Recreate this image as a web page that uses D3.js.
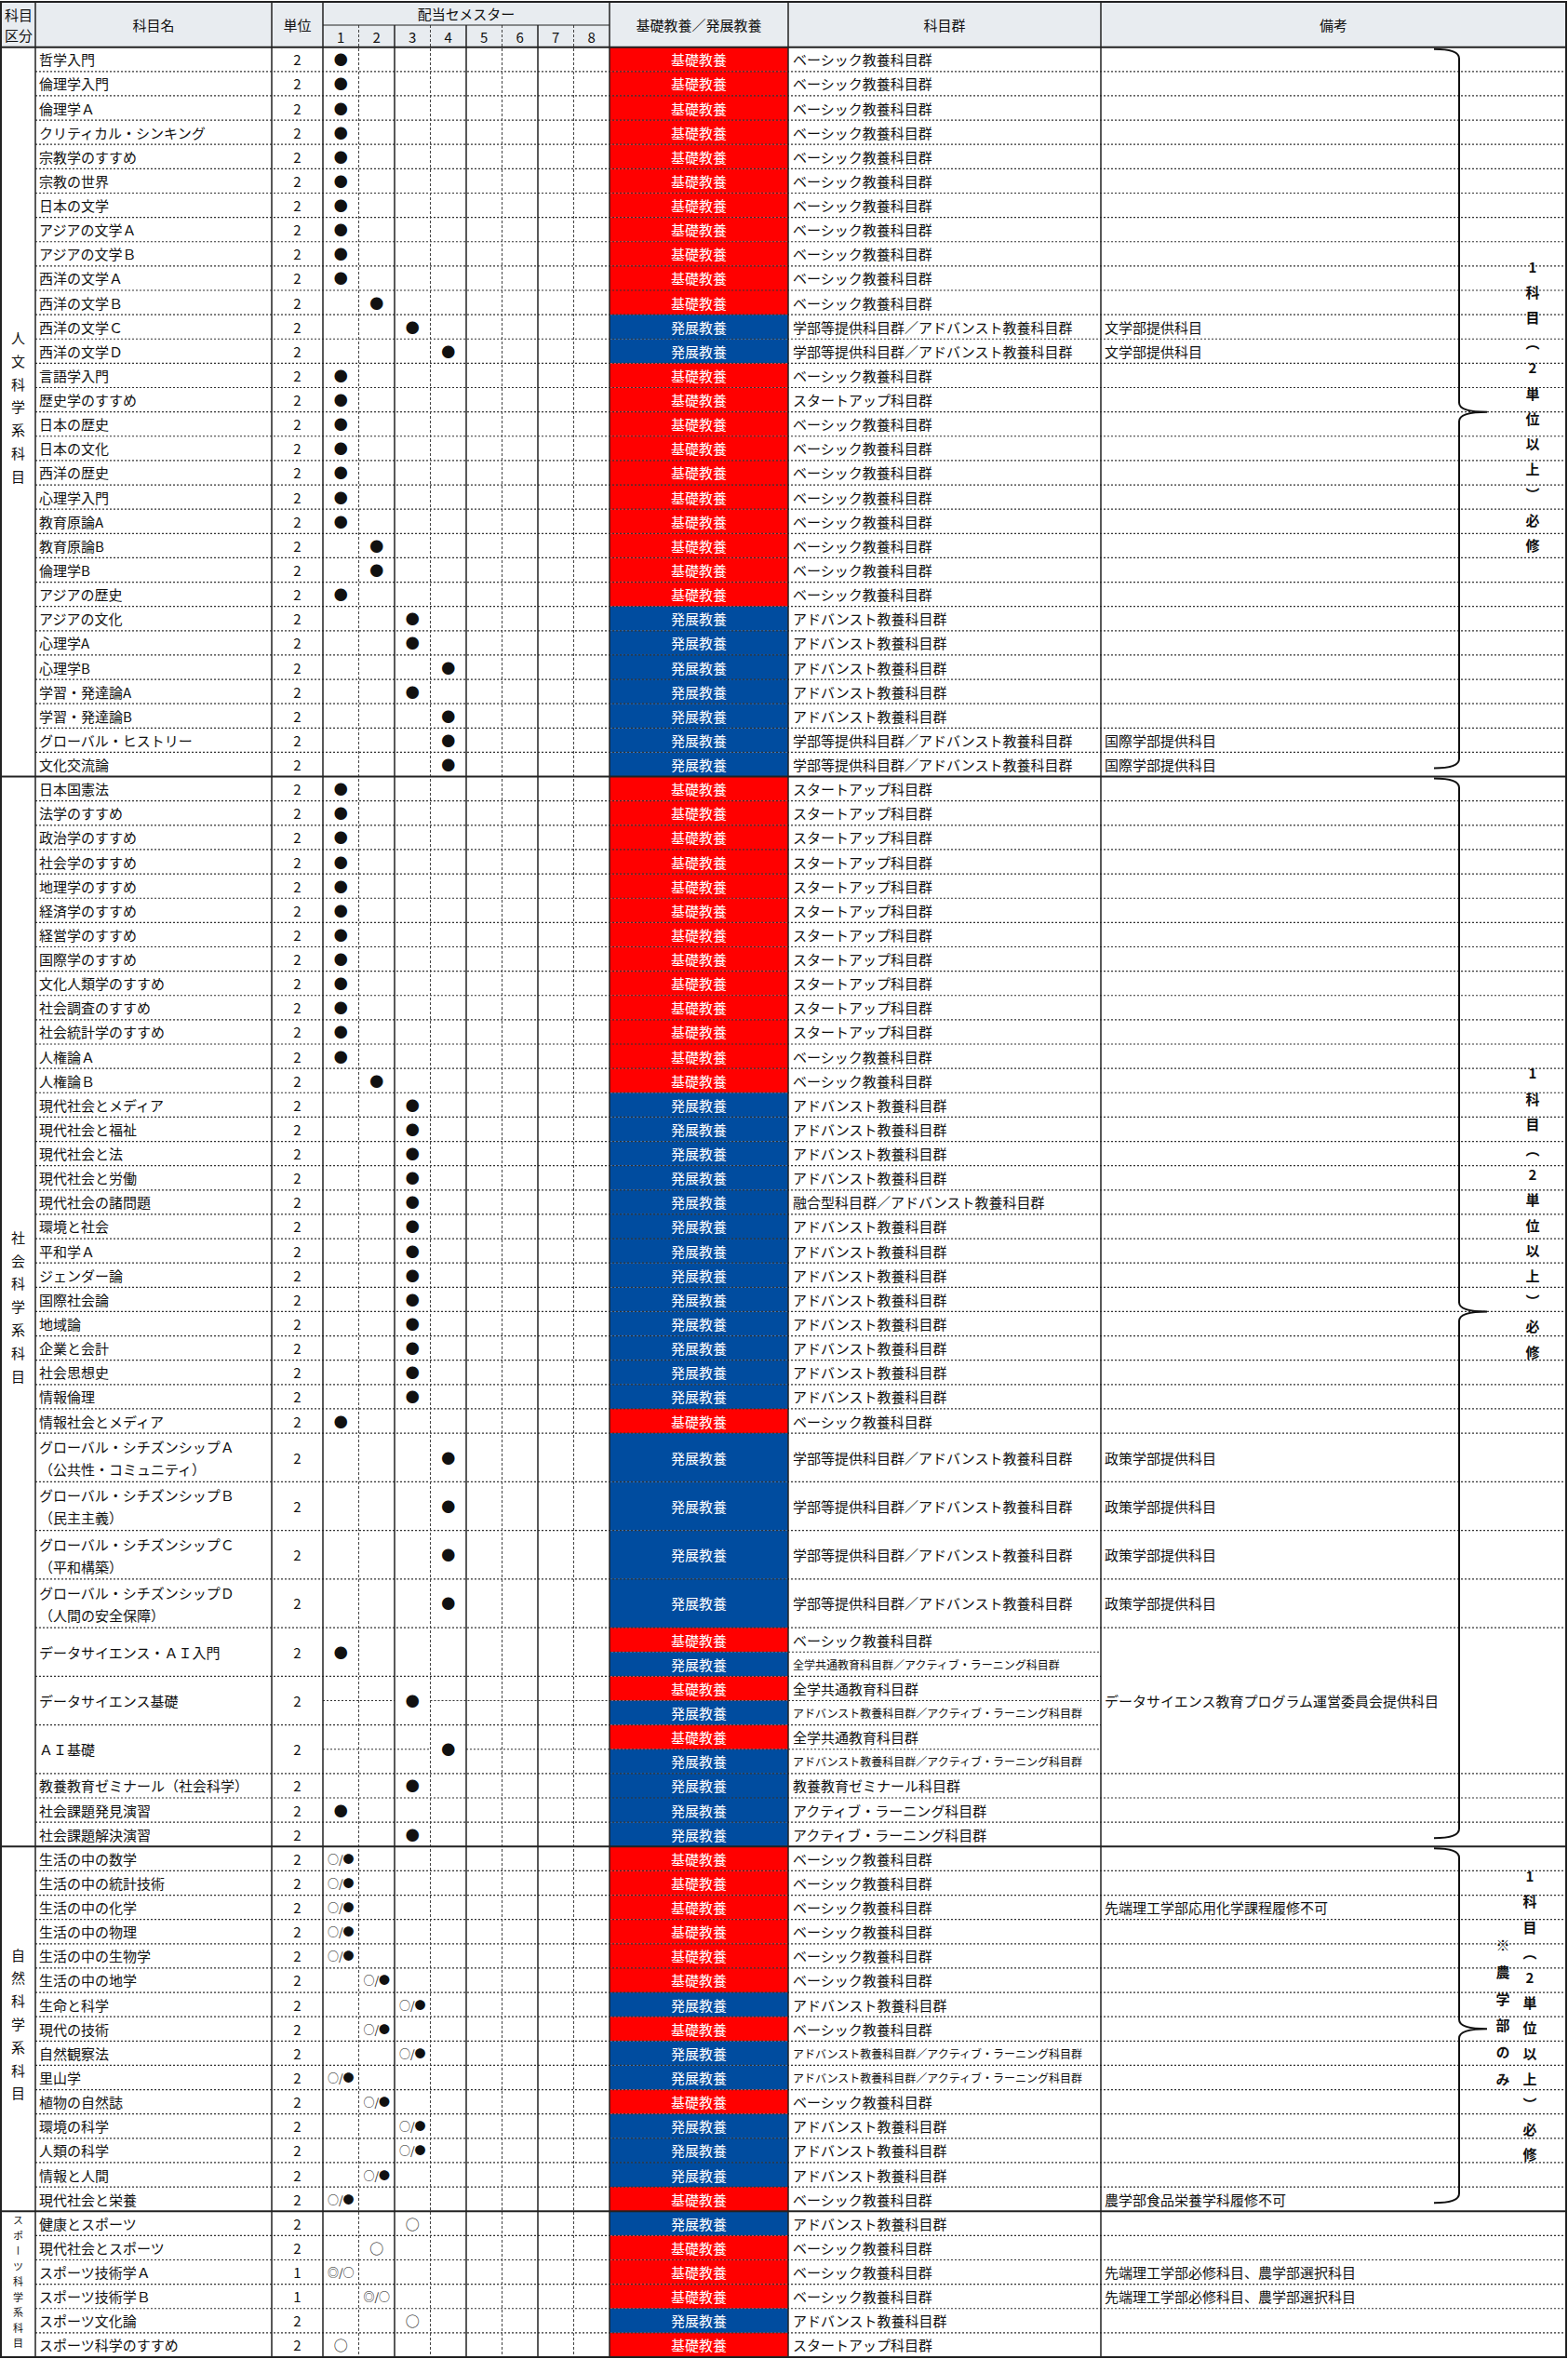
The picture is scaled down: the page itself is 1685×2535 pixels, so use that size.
<!DOCTYPE html>
<html lang="ja">
<head>
    <meta charset="UTF-8">
    <title>教養教育科目 配当表</title>
    <script src="https://cdnjs.cloudflare.com/ajax/libs/d3/7.8.5/d3.min.js"></script>
    <style>
        body { margin: 0; background: #fff; }
        svg text { font-family: "Noto Sans CJK JP", "Noto Sans", sans-serif; fill: #111; }
    </style>
</head>
<body>
<div id="chart"></div>
<script>
// ---- data ----
const sectionNames = ["人文科学系科目", "社会科学系科目", "自然科学系科目", "スポーツ科学系科目"];
const sectionCounts = [30, 37, 15, 6];

const courseNames = [
    // 人文科学系科目
    "哲学入門", "倫理学入門", "倫理学Ａ", "クリティカル・シンキング", "宗教学のすすめ", "宗教の世界", "日本の文学", "アジアの文学Ａ", "アジアの文学Ｂ", "西洋の文学Ａ",
    "西洋の文学Ｂ", "西洋の文学Ｃ", "西洋の文学Ｄ", "言語学入門", "歴史学のすすめ", "日本の歴史", "日本の文化", "西洋の歴史", "心理学入門", "教育原論A",
    "教育原論B", "倫理学B", "アジアの歴史", "アジアの文化", "心理学A", "心理学B", "学習・発達論A", "学習・発達論B", "グローバル・ヒストリー", "文化交流論",
    // 社会科学系科目
    "日本国憲法", "法学のすすめ", "政治学のすすめ", "社会学のすすめ", "地理学のすすめ", "経済学のすすめ", "経営学のすすめ", "国際学のすすめ", "文化人類学のすすめ", "社会調査のすすめ",
    "社会統計学のすすめ", "人権論Ａ", "人権論Ｂ", "現代社会とメディア", "現代社会と福祉", "現代社会と法", "現代社会と労働", "現代社会の諸問題", "環境と社会", "平和学Ａ",
    "ジェンダー論", "国際社会論", "地域論", "企業と会計", "社会思想史", "情報倫理", "情報社会とメディア",
    "グローバル・シチズンシップＡ\n（公共性・コミュニティ）", "グローバル・シチズンシップＢ\n（民主主義）",
    "グローバル・シチズンシップＣ\n（平和構築）", "グローバル・シチズンシップＤ\n（人間の安全保障）",
    "データサイエンス・ＡＩ入門", "データサイエンス基礎", "ＡＩ基礎",
    "教養教育ゼミナール（社会科学）", "社会課題発見演習", "社会課題解決演習",
    // 自然科学系科目
    "生活の中の数学", "生活の中の統計技術", "生活の中の化学", "生活の中の物理", "生活の中の生物学", "生活の中の地学", "生命と科学", "現代の技術", "自然観察法", "里山学",
    "植物の自然誌", "環境の科学", "人類の科学", "情報と人間", "現代社会と栄養",
    // スポーツ科学系科目
    "健康とスポーツ", "現代社会とスポーツ", "スポーツ技術学Ａ", "スポーツ技術学Ｂ", "スポーツ文化論", "スポーツ科学のすすめ"
];

const credits = [
    2, 2, 2, 2, 2, 2, 2, 2, 2, 2, 2, 2, 2, 2, 2, 2, 2, 2, 2, 2, 2, 2, 2, 2, 2, 2, 2, 2, 2, 2,
    2, 2, 2, 2, 2, 2, 2, 2, 2, 2, 2, 2, 2, 2, 2, 2, 2, 2, 2, 2, 2, 2, 2, 2, 2, 2, 2, 2, 2, 2, 2, 2, 2, 2, 2, 2, 2,
    2, 2, 2, 2, 2, 2, 2, 2, 2, 2, 2, 2, 2, 2, 2,
    2, 2, 1, 1, 2, 2
];

const semesters = [
    1, 1, 1, 1, 1, 1, 1, 1, 1, 1, 2, 3, 4, 1, 1, 1, 1, 1, 1, 1, 2, 2, 1, 3, 3, 4, 3, 4, 4, 4,
    1, 1, 1, 1, 1, 1, 1, 1, 1, 1, 1, 1, 2, 3, 3, 3, 3, 3, 3, 3, 3, 3, 3, 3, 3, 3, 1, 4, 4, 4, 4, 1, 3, 4, 3, 1, 3,
    1, 1, 1, 1, 1, 2, 3, 2, 3, 1, 2, 3, 3, 2, 1,
    3, 2, 1, 2, 3, 1
];

const marks = [
    ...Array(30).fill("●"),
    ...Array(37).fill("●"),
    ...Array(15).fill("○/●"),
    "○", "○", "◎/○", "◎/○", "○", "○"
];

const K = "基礎教養", H = "発展教養";
const kinds = [
    K, K, K, K, K, K, K, K, K, K, K, H, H, K, K, K, K, K, K, K, K, K, K, H, H, H, H, H, H, H,
    K, K, K, K, K, K, K, K, K, K, K, K, K, H, H, H, H, H, H, H, H, H, H, H, H, H, K, H, H, H, H,
    [K, H], [K, H], [K, H], H, H, H,
    K, K, K, K, K, K, H, K, H, H, K, H, H, H, K,
    H, K, K, K, H, K
];

const B = "ベーシック教養科目群", S = "スタートアップ科目群", A = "アドバンスト教養科目群";
const D = "学部等提供科目群／アドバンスト教養科目群", AL = "アドバンスト教養科目群／アクティブ・ラーニング科目群";
const groups = [
    B, B, B, B, B, B, B, B, B, B, B, D, D, B, S, B, B, B, B, B, B, B, B, A, A, A, A, A, D, D,
    S, S, S, S, S, S, S, S, S, S, S, B, B, A, A, A, A, "融合型科目群／アドバンスト教養科目群", A, A, A, A, A, A, A, A, B, D, D, D, D,
    [B, "全学共通教育科目群／アクティブ・ラーニング科目群"], ["全学共通教育科目群", AL], ["全学共通教育科目群", AL],
    "教養教育ゼミナール科目群", "アクティブ・ラーニング科目群", "アクティブ・ラーニング科目群",
    B, B, B, B, B, B, A, B, AL, AL, B, A, A, A, B,
    A, B, B, B, A, S
];

const notes = {
    "西洋の文学Ｃ": "文学部提供科目", "西洋の文学Ｄ": "文学部提供科目",
    "グローバル・ヒストリー": "国際学部提供科目", "文化交流論": "国際学部提供科目",
    "グローバル・シチズンシップＡ\n（公共性・コミュニティ）": "政策学部提供科目",
    "グローバル・シチズンシップＢ\n（民主主義）": "政策学部提供科目",
    "グローバル・シチズンシップＣ\n（平和構築）": "政策学部提供科目",
    "グローバル・シチズンシップＤ\n（人間の安全保障）": "政策学部提供科目",
    "生活の中の化学": "先端理工学部応用化学課程履修不可",
    "現代社会と栄養": "農学部食品栄養学科履修不可",
    "スポーツ技術学Ａ": "先端理工学部必修科目、農学部選択科目",
    "スポーツ技術学Ｂ": "先端理工学部必修科目、農学部選択科目"
};
const mergedNoteRows = ["データサイエンス・ＡＩ入門", "データサイエンス基礎", "ＡＩ基礎"];
const mergedNoteText = "データサイエンス教育プログラム運営委員会提供科目";
const splitSemesterRows = ["データサイエンス基礎", "ＡＩ基礎"];

const braceNotes = ["1科目（2単位以上）必修", "1科目（2単位以上）必修", "1科目（2単位以上）必修"];
const braceSubNotes = [null, null, "※農学部のみ"];

const headerCols = ["科目名", "単位", "基礎教養／発展教養", "科目群", "備考"];

// ---- layout ----
const width = 1685, height = 2535;
const xLeft = 1, xCat = 38, xName = 292, xUnit = 347, xSemEnd = 655, xKind = 847, xGroup = 1183, xRight = 1683;
const yTop = 2, yHeadMid = 27, yHead = 50.7, yBottom = 2533;
const fontSize = 15;

const svg = d3.select("#chart").append("svg")
    .attr("width", width)
    .attr("height", height)
    .style("display", "block");

// rows with unit positions
let cursor = 0;
const rows = courseNames.map((name, i) => {
    const span = (name.includes("\n") || Array.isArray(kinds[i])) ? 2 : 1;
    const r = { i, name, start: cursor, span };
    cursor += span;
    return r;
});
const totalUnits = cursor;

let acc = 0;
const sections = sectionNames.map((name, s) => {
    const first = rows[acc], last = rows[acc + sectionCounts[s] - 1];
    acc += sectionCounts[s];
    return { name, start: first.start, end: last.start + last.span, firstIdx: first.i, lastIdx: last.i };
});
rows.forEach(r => { r.section = sections.findIndex(s => r.i >= s.firstIdx && r.i <= s.lastIdx); });

const y = d3.scaleLinear().domain([0, totalUnits]).range([yHead, yBottom]);
const xSem = d3.scaleBand().domain(d3.range(1, 9)).range([xUnit, xSemEnd]);
const semCenter = s => xSem(s) + xSem.bandwidth() / 2;

// ---- header ----
svg.append("rect").attr("x", xLeft).attr("y", yTop).attr("width", xRight - xLeft).attr("height", yHead - yTop)
    .attr("fill", "#e8ecf0");

const head = svg.append("g").attr("font-size", fontSize).attr("dominant-baseline", "central");
head.append("text").attr("x", 5).attr("y", 15).text("科目");
head.append("text").attr("x", 5).attr("y", 37).text("区分");
const headCenters = [(xCat + xName) / 2, (xName + xUnit) / 2, (xSemEnd + xKind) / 2, (xKind + xGroup) / 2, (xGroup + xRight) / 2];
headerCols.forEach((t, i) => {
    head.append("text").attr("x", headCenters[i]).attr("y", (yTop + yHead) / 2)
        .attr("text-anchor", "middle").text(t);
});
head.append("text").attr("x", (xUnit + xSemEnd) / 2).attr("y", 14).attr("text-anchor", "middle").text("配当セメスター");
head.selectAll(".semno").data(xSem.domain()).enter().append("text")
    .attr("x", d => semCenter(d)).attr("y", 39).attr("text-anchor", "middle").text(d => d);

// ---- kind cells ----
const cells = [];
rows.forEach(r => {
    const ks = Array.isArray(kinds[r.i]) ? kinds[r.i] : [kinds[r.i]];
    const gs = Array.isArray(groups[r.i]) ? groups[r.i] : [groups[r.i]];
    const sub = r.span / ks.length;
    ks.forEach((k, j) => cells.push({ kind: k, group: gs[j], y0: r.start + j * sub, y1: r.start + (j + 1) * sub }));
});

svg.append("g").selectAll("rect").data(cells).enter().append("rect")
    .attr("x", xSemEnd).attr("width", xKind - xSemEnd)
    .attr("y", d => y(d.y0)).attr("height", d => y(d.y1) - y(d.y0))
    .attr("fill", d => d.kind === K ? "#ff0000" : "#004c9f");

const body = svg.append("g").attr("font-size", fontSize).attr("dominant-baseline", "central");

body.selectAll(".kind").data(cells).enter().append("text")
    .attr("x", (xSemEnd + xKind) / 2).attr("y", d => y((d.y0 + d.y1) / 2))
    .attr("text-anchor", "middle").style("fill", "#fff").text(d => d.kind);

body.selectAll(".group").data(cells).enter().append("text")
    .attr("x", xKind + 5).attr("y", d => y((d.y0 + d.y1) / 2))
    .attr("font-size", d => d.group.length * fontSize > xGroup - xKind - 10 ? 12 : fontSize)
    .text(d => d.group);

// ---- course names, credits, marks ----
rows.forEach(r => {
    const lines = r.name.split("\n");
    const mid = y(r.start + r.span / 2);
    if (lines.length === 1) {
        body.append("text").attr("x", xCat + 4).attr("y", mid).text(lines[0]);
    } else {
        body.append("text").attr("x", xCat + 4).attr("y", mid - 11.5).text(lines[0]);
        body.append("text").attr("x", xCat + 4).attr("y", mid + 12.5).text(lines[1]);
    }
    body.append("text").attr("x", (xName + xUnit) / 2).attr("y", mid).attr("text-anchor", "middle").text(credits[r.i]);
    const m = marks[r.i];
    body.append("text").attr("x", semCenter(semesters[r.i])).attr("y", mid).attr("text-anchor", "middle")
        .attr("font-size", m.length > 1 ? 12 : fontSize).text(m);
    if (notes[r.name]) {
        body.append("text").attr("x", xGroup + 4).attr("y", mid).text(notes[r.name]);
    }
});

const mergedRows = rows.filter(r => mergedNoteRows.includes(r.name));
const mStart = mergedRows[0].start, mEnd = mergedRows[mergedRows.length - 1].start + mergedRows[mergedRows.length - 1].span;
body.append("text").attr("x", xGroup + 4).attr("y", y((mStart + mEnd) / 2)).text(mergedNoteText);

// ---- section labels (vertical) ----
sections.forEach((s, i) => {
    const small = s.name.length > 7;
    const fs = small ? 11 : fontSize;
    svg.append("text")
        .attr("x", (xLeft + xCat) / 2).attr("y", (y(s.start) + y(s.end)) / 2)
        .attr("font-size", fs)
        .attr("text-anchor", "middle")
        .style("writing-mode", "vertical-rl")
        .style("text-orientation", "upright")
        .style("letter-spacing", (small ? 5.5 : 9.8) + "px")
        .text(s.name);
});

// ---- grid lines ----
const grid = svg.append("g").attr("fill", "none");
const hline = (x1, x2, yy, dotted, w) => grid.append("line")
    .attr("x1", x1).attr("x2", x2).attr("y1", yy).attr("y2", yy)
    .attr("stroke", dotted ? "#333" : "#222").attr("stroke-width", w || 1)
    .attr("stroke-dasharray", dotted ? "2,2" : null);
const vline = (xx, y1, y2, dashed, w) => grid.append("line")
    .attr("x1", xx).attr("x2", xx).attr("y1", y1).attr("y2", y2)
    .attr("stroke", dashed ? "#444" : "#222").attr("stroke-width", w || 1.5)
    .attr("stroke-dasharray", dashed ? "3,2" : null);

// row separators
rows.forEach((r, k) => {
    const next = rows[k + 1];
    if (!next || next.section !== r.section) return;
    const inMerged = mergedNoteRows.includes(r.name) && mergedNoteRows.includes(next.name);
    hline(xCat, inMerged ? xGroup : xRight, y(next.start), true, 1.2);
});
// sub-row separators inside split rows
cells.forEach(c => {
    const r = rows.find(rr => c.y0 > rr.start && c.y0 < rr.start + rr.span);
    if (!r) return;
    hline(xSemEnd, xGroup, y(c.y0), true, 1.2);
    if (splitSemesterRows.includes(r.name)) {
        const s = semesters[r.i];
        if (s > 1) hline(xUnit, xSem(s), y(c.y0), true, 1.2);
        if (s < 8) hline(xSem(s) + xSem.bandwidth(), xSemEnd, y(c.y0), true, 1.2);
    }
});

// vertical lines
[xCat, xName, xUnit, xSemEnd, xKind, xGroup].forEach(xx => vline(xx, yTop, yBottom, false, 1.5));
d3.range(2, 8, 2).forEach(s => vline(xSem(s + 1), yHeadMid, yBottom, false, 1.5));
d3.range(1, 9, 2).forEach(s => vline(xSem(s + 1), yHeadMid, yBottom, true, 1));
hline(xUnit, xSemEnd, yHeadMid, false, 1.2);

// section and header lines
hline(xLeft, xRight, yHead, false, 2);
sections.slice(1).forEach(s => hline(xLeft, xRight, y(s.start), false, 2));
grid.append("rect").attr("x", xLeft).attr("y", yTop).attr("width", xRight - xLeft).attr("height", yBottom - yTop)
    .attr("stroke", "#222").attr("stroke-width", 2);

// ---- braces ----
const braceX = 1568, braceTip = 1598, braceHook = 1541;
const braceOffsets = [0, -100, -8];
braceNotes.forEach((t, i) => {
    const s = sections[i];
    const t0 = y(s.start) + 2, b0 = y(s.end) - 9, m0 = (y(s.start) + y(s.end)) / 2;
    const p = d3.path();
    p.moveTo(braceHook, t0);
    p.quadraticCurveTo(braceX, t0, braceX, t0 + 10);
    p.lineTo(braceX, m0 - 10);
    p.quadraticCurveTo(braceX, m0, braceTip, m0);
    p.quadraticCurveTo(braceX, m0, braceX, m0 + 10);
    p.lineTo(braceX, b0 - 10);
    p.quadraticCurveTo(braceX, b0, braceHook, b0);
    svg.append("path").attr("d", p.toString()).attr("fill", "none").attr("stroke", "#111").attr("stroke-width", 2);

    svg.append("text")
        .attr("x", i === 2 ? 1644 : 1647).attr("y", m0 + braceOffsets[i])
        .attr("font-size", fontSize).attr("font-weight", 700)
        .attr("text-anchor", "middle")
        .style("writing-mode", "vertical-rl")
        .style("text-orientation", "upright")
        .style("letter-spacing", "12.2px")
        .text(t);
    if (braceSubNotes[i]) {
        svg.append("text")
            .attr("x", 1615).attr("y", m0 - 11)
            .attr("font-size", fontSize).attr("font-weight", 700)
            .attr("text-anchor", "middle")
            .style("writing-mode", "vertical-rl")
            .style("text-orientation", "upright")
            .style("letter-spacing", "13.8px")
            .text(braceSubNotes[i]);
    }
});
</script>
</body>
</html>
